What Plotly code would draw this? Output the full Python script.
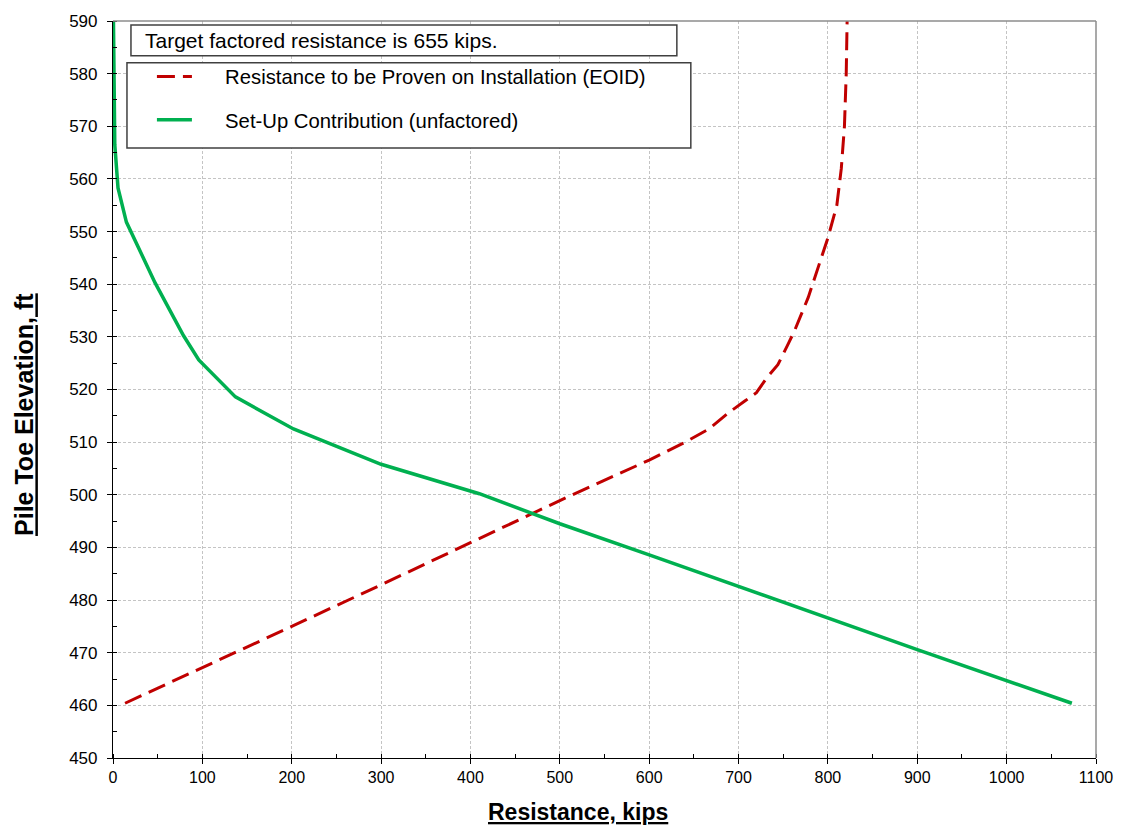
import plotly.graph_objects as go

# Set-Up Contribution (unfactored) - green solid
setup_x = [0.5, 1, 1.5, 2, 5.6, 15, 47, 79, 96, 137, 202, 300, 410, 500, 600, 700, 800, 900, 1073]
setup_y = [590, 580, 570, 566.5, 558.3, 551.8, 540.3, 530.2, 525.6, 518.6, 512.5, 505.8, 500.2, 494.5, 488.6, 482.6, 476.6, 470.6, 460.4]

# Resistance to be Proven on Installation (EOID) - red dashed
eoid_x = [13.5, 100, 200, 300, 400, 500, 600, 637, 667, 689, 707, 720, 731.5, 744, 756, 763, 778, 789, 800, 810, 815, 818.5, 820.5, 821.5]
eoid_y = [460.4, 467.1, 475, 482.9, 490.9, 498.9, 506.6, 509.7, 512.5, 515.6, 517.8, 519.4, 522.2, 524.7, 528.8, 531.3, 537.5, 543.1, 548.8, 555, 562, 570, 580, 590]

series_names = ["Resistance to be Proven on Installation (EOID)", "Set-Up Contribution (unfactored)"]
note_text = "Target factored resistance is 655 kips."
x_title = "Resistance, kips"
y_title = "Pile Toe Elevation, ft"

FONT = "Arial, Liberation Sans, sans-serif"
PAD = "\u00a0" * 5

fig = go.Figure()
fig.add_trace(go.Scatter(x=eoid_x, y=eoid_y, mode="lines", name=PAD + series_names[0],
                         legendgroup="a",
                         line=dict(color="#c00000", width=3, dash="18px,8px")))
fig.add_trace(go.Scatter(x=setup_x, y=setup_y, mode="lines", name=PAD + series_names[1],
                         legendgroup="b",
                         line=dict(color="#00b050", width=3.5)))

L, R, T, B = 113, 1098, 15, 758
W, H = 1125, 828
pw, ph = R - L, B - T

def px(x):
    return (x - L) / pw

def py(y):
    return 1 - (y - T) / ph

axis_common = dict(
    showline=True, linecolor="black", linewidth=1.2,
    ticks="outside", ticklen=5, tickcolor="black",
    showgrid=True, gridcolor="#c4c4c4", gridwidth=1, griddash="3px,2px",
    zeroline=False,
)

fig.update_layout(
    width=W, height=H,
    margin=dict(l=L, r=W - R, t=T, b=H - B),
    paper_bgcolor="white", plot_bgcolor="white",
    font=dict(family=FONT, color="black"),
    xaxis=dict(range=[0, 1100], dtick=100, tick0=0,
               minor=dict(ticks="inside", ticklen=4, dtick=50, tickcolor="black", showgrid=False),
               tickfont=dict(family=FONT, size=16, color="black"),
               **axis_common),
    yaxis=dict(range=[450, 590], dtick=10, tick0=450,
               minor=dict(ticks="inside", ticklen=4, dtick=5, tickcolor="black", showgrid=False),
               tickfont=dict(family=FONT, size=17, color="black"),
               ticklabelstandoff=6,
               **axis_common),
    legend=dict(x=px(152), y=py(51), xanchor="left", yanchor="top",
                bgcolor="rgba(0,0,0,0)", borderwidth=0,
                font=dict(family=FONT, size=20.3, color="black"),
                itemwidth=35, tracegroupgap=14, traceorder="grouped"),
    showlegend=True,
)

# axis titles
fig.add_annotation(xref="paper", yref="paper", x=px(579), y=py(812), xanchor="center", yanchor="middle",
                   text="<b><u>" + x_title + "</u></b>", showarrow=False,
                   font=dict(family=FONT, size=23, color="black"))
fig.add_annotation(xref="paper", yref="paper", x=px(24), y=py(412), xanchor="center", yanchor="middle",
                   text="<b><u>" + y_title + "</u></b>", showarrow=False, textangle=-90,
                   font=dict(family=FONT, size=25, color="black"))

# plot frame (top / right, grey)
fig.add_shape(type="line", xref="paper", yref="paper", x0=0, x1=1, y0=1, y1=1,
              line=dict(color="#8c8c8c", width=1.5), layer="above")
fig.add_shape(type="line", xref="paper", yref="paper", x0=1, x1=1, y0=0, y1=1,
              line=dict(color="#8c8c8c", width=1.5), layer="above")

# note box
fig.add_shape(type="rect", xref="paper", yref="paper",
              x0=px(131), x1=px(678), y0=py(50), y1=py(19),
              line=dict(color="#404040", width=1.5), fillcolor="white", layer="above")
fig.add_annotation(xref="paper", yref="paper", x=px(143), y=py(35), xanchor="left", yanchor="middle",
                   text=note_text, showarrow=False, font=dict(family=FONT, size=21, color="black"))

# legend box
fig.add_shape(type="rect", xref="paper", yref="paper",
              x0=px(127), x1=px(692), y0=py(143), y1=py(57),
              line=dict(color="#404040", width=1.5), fillcolor="white", layer="above")

fig.write_html("out.html")
